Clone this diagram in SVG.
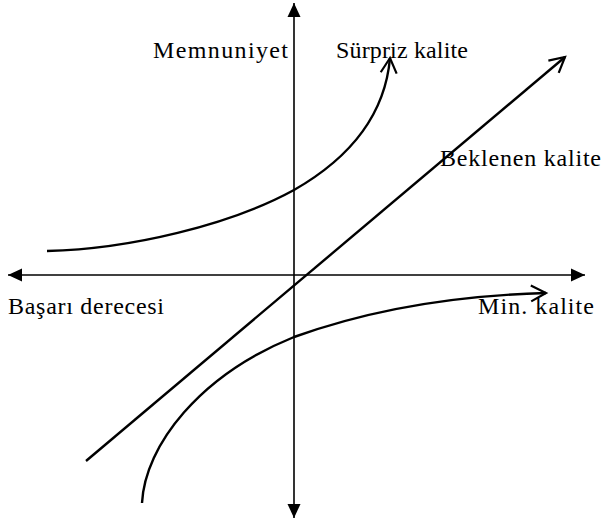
<svg xmlns="http://www.w3.org/2000/svg" width="604" height="523" viewBox="0 0 604 523">
  <style>
    .axis { stroke: #000; stroke-width: 1.6; fill: none; }
    .curve { stroke: #000; stroke-width: 2.4; fill: none; }
    .lbl { font-family: "Liberation Serif", "Times New Roman", serif; font-size: 24px; fill: #000; }
  </style>
  <defs>
    <marker id="solid" markerUnits="userSpaceOnUse" markerWidth="15" markerHeight="13" refX="14" refY="6.5" orient="auto-start-reverse" overflow="visible">
      <path d="M0,0 L14,6.5 L0,13 z" fill="#000"/>
    </marker>
    <marker id="open" markerUnits="userSpaceOnUse" markerWidth="18" markerHeight="18" refX="15" refY="8" orient="auto" overflow="visible">
      <path d="M0,0 L15,8 L0,16" fill="none" stroke="#000" stroke-width="2.2" stroke-linejoin="miter"/>
    </marker>
  </defs>

  <g id="connectors">
    <line id="y-axis" class="axis" x1="294" y1="3" x2="294" y2="518" marker-start="url(#solid)" marker-end="url(#solid)"/>
    <line id="x-axis" class="axis" x1="8" y1="275" x2="585" y2="275" marker-start="url(#solid)" marker-end="url(#solid)"/>
    <path id="beklenen" class="curve" d="M86,461 L565,57" marker-end="url(#open)"/>
    <path id="surpriz" class="curve" d="M47,251 C130,249 230,225 294,190 C350,158 385,115 390,58" marker-end="url(#open)"/>
    <path id="min" class="curve" d="M142,503 C145,445 200,375 294,337 C380,306 470,295 546,293" marker-end="url(#open)"/>
  </g>

  <g id="label-memnuniyet"><text class="lbl" x="153" y="58" textLength="135" lengthAdjust="spacing">Memnuniyet</text></g>
  <g id="label-surpriz"><text class="lbl" x="336" y="58" textLength="132" lengthAdjust="spacing">Sürpriz kalite</text></g>
  <g id="label-beklenen"><text class="lbl" x="440" y="166" textLength="161" lengthAdjust="spacing">Beklenen kalite</text></g>
  <g id="label-basari"><text class="lbl" x="8" y="314" textLength="156" lengthAdjust="spacing">Başarı derecesi</text></g>
  <g id="label-min"><text class="lbl" x="478" y="314" textLength="116" lengthAdjust="spacing">Min. kalite</text></g>
</svg>
